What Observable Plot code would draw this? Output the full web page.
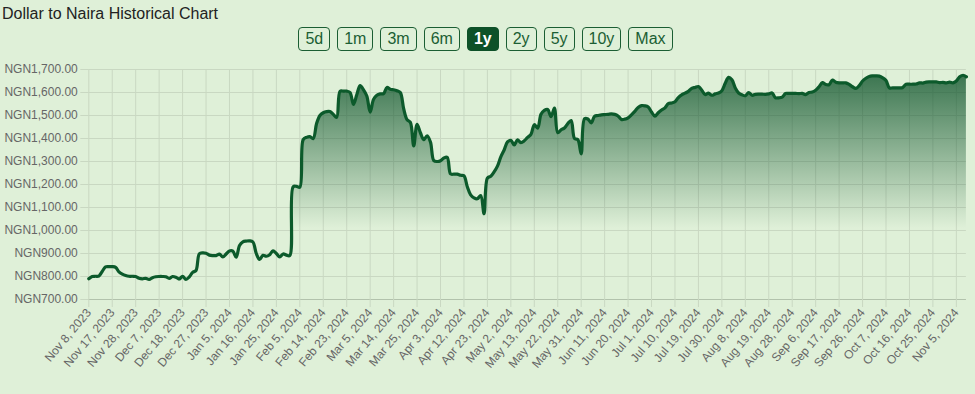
<!DOCTYPE html>
<html><head><meta charset="utf-8">
<script src="https://cdn.jsdelivr.net/npm/d3@7"></script>
<script src="https://cdn.jsdelivr.net/npm/@observablehq/plot@0.6"></script>
<style>
html,body{margin:0;padding:0;background:#dff0d8;width:975px;height:394px;overflow:hidden;font-family:"Liberation Sans",Arial,sans-serif;}
#title{position:absolute;left:2px;top:2px;font-size:16px;line-height:24px;color:#222;white-space:nowrap;}
#buttons{position:absolute;left:0;top:27px;width:971px;display:flex;justify-content:center;gap:7px;}
#buttons span{display:inline-block;box-sizing:border-box;height:24px;line-height:22px;padding:0 6px;border:1px solid #1b5e33;border-radius:4px;color:#1b5e33;font-size:16px;}
#buttons span.active{background:#0d5128;border-color:#0d5128;color:#fff;font-weight:bold;}
#chart{position:absolute;left:0;top:56px;}
</style></head>
<body>
<div id="title">Dollar to Naira Historical Chart</div>
<div id="buttons"></div>
<div id="chart"></div>
<script>
const rangeButtons = ["5d","1m","3m","6m","1y","2y","5y","10y","Max"];
const activeButton = "1y";
const firstDate = "2023-11-08";
const lastDate = "2024-11-08";
// NGN per USD, one value per weekday from firstDate to lastDate
const rates = [
  790, 800, 801, 802, 822, 842, 843, 843, 840, 820,
  810, 804, 801, 801, 800, 792, 790, 792, 787, 795,
  799, 800, 800, 799, 792, 800, 797, 789, 801, 787,
  798, 818, 826, 899, 903, 901, 893, 891, 891, 897,
  885, 898, 911, 910, 884, 935, 951, 954, 955, 950,
  900, 874, 892, 888, 895, 912, 900, 885, 898, 893,
  891, 1190, 1192, 1188, 1395, 1405, 1408, 1400, 1465, 1500,
  1512, 1517, 1517, 1505, 1492, 1605, 1606, 1606, 1600, 1548,
  1590, 1630, 1612, 1585, 1515, 1570, 1588, 1594, 1595, 1622,
  1614, 1612, 1608, 1600, 1530, 1482, 1470, 1368, 1462, 1425,
  1395, 1412, 1385, 1304, 1300, 1303, 1315, 1318, 1246, 1245,
  1245, 1240, 1238, 1190, 1155, 1142, 1138, 1152, 1073, 1228,
  1236, 1255, 1280, 1320, 1350, 1385, 1392, 1372, 1394, 1382,
  1390, 1405, 1418, 1460, 1445, 1505, 1522, 1526, 1495, 1532,
  1425, 1438, 1446, 1465, 1478, 1400, 1395, 1333, 1486, 1485,
  1468, 1497, 1500, 1503, 1504, 1505, 1507, 1505, 1498, 1483,
  1484, 1490, 1503, 1518, 1535, 1543, 1542, 1537, 1515, 1497,
  1512, 1524, 1533, 1552, 1554, 1560, 1578, 1590, 1597, 1605,
  1618, 1622, 1626, 1610, 1591, 1597, 1588, 1594, 1598, 1608,
  1640, 1666, 1655, 1620, 1598, 1590, 1586, 1600, 1588, 1592,
  1593, 1593, 1592, 1594, 1598, 1577, 1577, 1580, 1596, 1596,
  1596, 1596, 1595, 1596, 1591, 1600, 1602, 1610, 1625, 1643,
  1635, 1634, 1654, 1645, 1642, 1642, 1642, 1635, 1625, 1618,
  1630, 1650, 1662, 1670, 1672, 1672, 1671, 1664, 1652, 1620,
  1620, 1620, 1620, 1622, 1636, 1636, 1636, 1637, 1642, 1641,
  1645, 1646, 1646, 1646, 1643, 1644, 1642, 1645, 1642, 1650,
  1668, 1675, 1668
];
const yTicks = [700, 800, 900, 1000, 1100, 1200, 1300, 1400, 1500, 1600, 1700];
const xTickLabels = ["Nov 8, 2023","Nov 17, 2023","Nov 28, 2023","Dec 7, 2023","Dec 18, 2023","Dec 27, 2023",
  "Jan 5, 2024","Jan 16, 2024","Jan 25, 2024","Feb 5, 2024","Feb 14, 2024","Feb 23, 2024","Mar 5, 2024",
  "Mar 14, 2024","Mar 25, 2024","Apr 3, 2024","Apr 12, 2024","Apr 23, 2024","May 2, 2024","May 13, 2024",
  "May 22, 2024","May 31, 2024","Jun 11, 2024","Jun 20, 2024","Jul 1, 2024","Jul 10, 2024","Jul 19, 2024",
  "Jul 30, 2024","Aug 8, 2024","Aug 19, 2024","Aug 28, 2024","Sep 6, 2024","Sep 17, 2024","Sep 26, 2024",
  "Oct 7, 2024","Oct 16, 2024","Oct 25, 2024","Nov 5, 2024"];

// buttons
const bdiv = document.getElementById("buttons");
for (const b of rangeButtons) {
  const s = document.createElement("span");
  s.textContent = b;
  if (b === activeButton) s.className = "active";
  bdiv.appendChild(s);
}

const iso = d3.utcFormat("%Y-%m-%d");
const dates = d3.utcDay.range(new Date(firstDate), d3.utcDay.offset(new Date(lastDate), 1))
  .filter(d => d.getUTCDay() !== 0 && d.getUTCDay() !== 6).map(iso);
const rows = dates.map((d, i) => ({date: d, rate: rates[i]}));
const parseLabel = d3.utcParse("%b %d, %Y");
const tickDates = xTickLabels.map(l => iso(parseLabel(l)));
const labelOf = new Map(tickDates.map((d, i) => [d, xTickLabels[i]]));
const fmt = d3.format(",.2f");
const gridColor = "#c9d8c2";

const chart = Plot.plot({
  width: 975, height: 338,
  marginLeft: 88.3, marginRight: 9.1, marginTop: 13, marginBottom: 95,
  style: {background: "transparent", fontFamily: "'Liberation Sans', Arial, sans-serif", fontSize: "12px", color: "#666", overflow: "visible"},
  x: {type: "point", domain: dates, padding: 0},
  y: {domain: [700, 1700]},
  marks: [
    Plot.gridY(yTicks, {stroke: gridColor, strokeOpacity: 1}),
    Plot.gridX(tickDates, {stroke: gridColor, strokeOpacity: 1}),
    Plot.areaY(rows, {x: "date", y1: () => 700, y2: "rate", fill: "url(#rateFill)", curve: "catmull-rom"}),
    Plot.lineY(rows, {x: "date", y: "rate", stroke: "#0c5a2b", strokeWidth: 3.2, curve: "catmull-rom"}),
    Plot.ruleY([700], {stroke: "#b2c2ac"}),
    Plot.axisY(yTicks, {tickSize: 8, tickPadding: 3, tickFormat: d => "NGN" + fmt(d), stroke: gridColor, fill: "#666", label: null}),
    Plot.axisX(tickDates, {tickSize: 8, tickPadding: 3, tickRotate: -50, tickFormat: d => labelOf.get(d), stroke: gridColor, fill: "#666", label: null})
  ]
});

const defs = d3.select(chart).insert("defs", ":first-child");
const g = defs.append("linearGradient").attr("id", "rateFill")
  .attr("gradientUnits", "userSpaceOnUse").attr("x1", 0).attr("x2", 0).attr("y1", 13).attr("y2", 172);
g.append("stop").attr("offset", 0).attr("stop-color", "#0b5128").attr("stop-opacity", 0.8);
g.append("stop").attr("offset", 1).attr("stop-color", "#0b5128").attr("stop-opacity", 0);

document.getElementById("chart").appendChild(chart);
</script>
</body></html>
